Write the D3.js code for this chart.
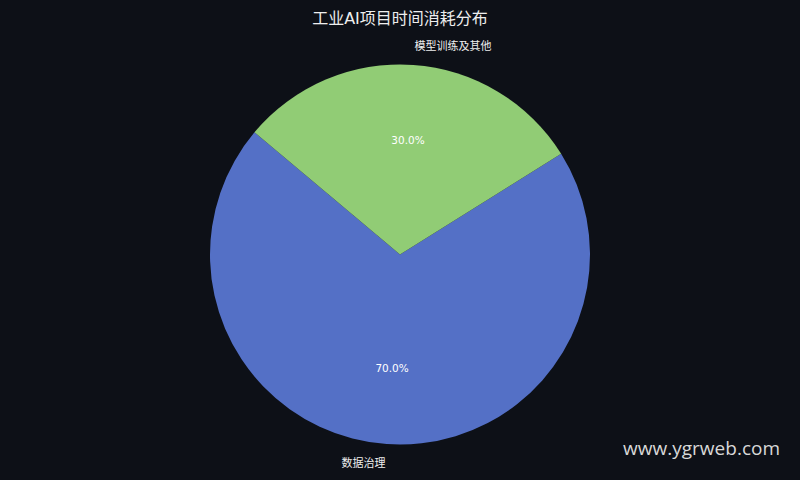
<!DOCTYPE html>
<html><head><meta charset="utf-8">
<script src="https://cdn.jsdelivr.net/npm/d3@7"></script>
<style>html,body{margin:0;padding:0;background:#0d1017;}svg{display:block;}</style>
</head><body>
<svg id="c" width="800" height="480"></svg>
<script>
const categories = ["数据治理", "模型训练及其他"];
const values = [70, 30];
const colors = ["#5470c6", "#91cc75"];
const title = "工业AI项目时间消耗分布";

const W = 800, H = 480, cx = 400, cy = 254.5, R = 190;
const svg = d3.select("#c");
svg.append("rect").attr("width", W).attr("height", H).attr("fill", "#0d1017");
svg.append("text").attr("x", 400).attr("y", 24).attr("text-anchor", "middle")
  .attr("font-family", "'DejaVu Sans','Noto Sans CJK SC',sans-serif").attr("font-size", 16)
  .attr("fill", "#eeeeee").text(title);

const deg = Math.PI / 180;
const pie = d3.pie().sort(null).value(d => d.v).startAngle(58 * deg).endAngle(418 * deg);
const data = categories.map((c, i) => ({ c, v: values[i], col: colors[i] }));
const arcs = pie(data);
const arc = d3.arc().innerRadius(0).outerRadius(R);
const g = svg.append("g").attr("transform", `translate(${cx},${cy})`);
g.selectAll("path").data(arcs).join("path").attr("d", arc).attr("fill", d => d.data.col);

const total = d3.sum(values);
const font = "'DejaVu Sans','Noto Sans CJK SC',sans-serif";
arcs.forEach(a => {
  const m = (a.startAngle + a.endAngle) / 2;
  const sx = Math.sin(m), sy = -Math.cos(m);
  g.append("text").attr("x", sx * R * 0.6).attr("y", sy * R * 0.6).attr("dy", "0.35em")
    .attr("text-anchor", "middle").attr("font-family", font).attr("font-size", 10.5)
    .attr("fill", "#ffffff").text((a.data.v / total * 100).toFixed(1) + "%");
  g.append("text").attr("x", sx * R * 1.1).attr("y", sy * R * 1.1).attr("dy", "0.35em")
    .attr("text-anchor", sx >= 0 ? "start" : "end").attr("font-family", font).attr("font-size", 11)
    .attr("fill", "#eeeeee").text(a.data.c);
});

svg.append("text").attr("x", 780).attr("y", 455).attr("text-anchor", "end")
  .attr("font-family", "'Open Sans','DejaVu Sans',sans-serif").attr("font-size", 19)
  .attr("fill", "#d8d8d8").text("www.ygrweb.com");
</script>
</body></html>
